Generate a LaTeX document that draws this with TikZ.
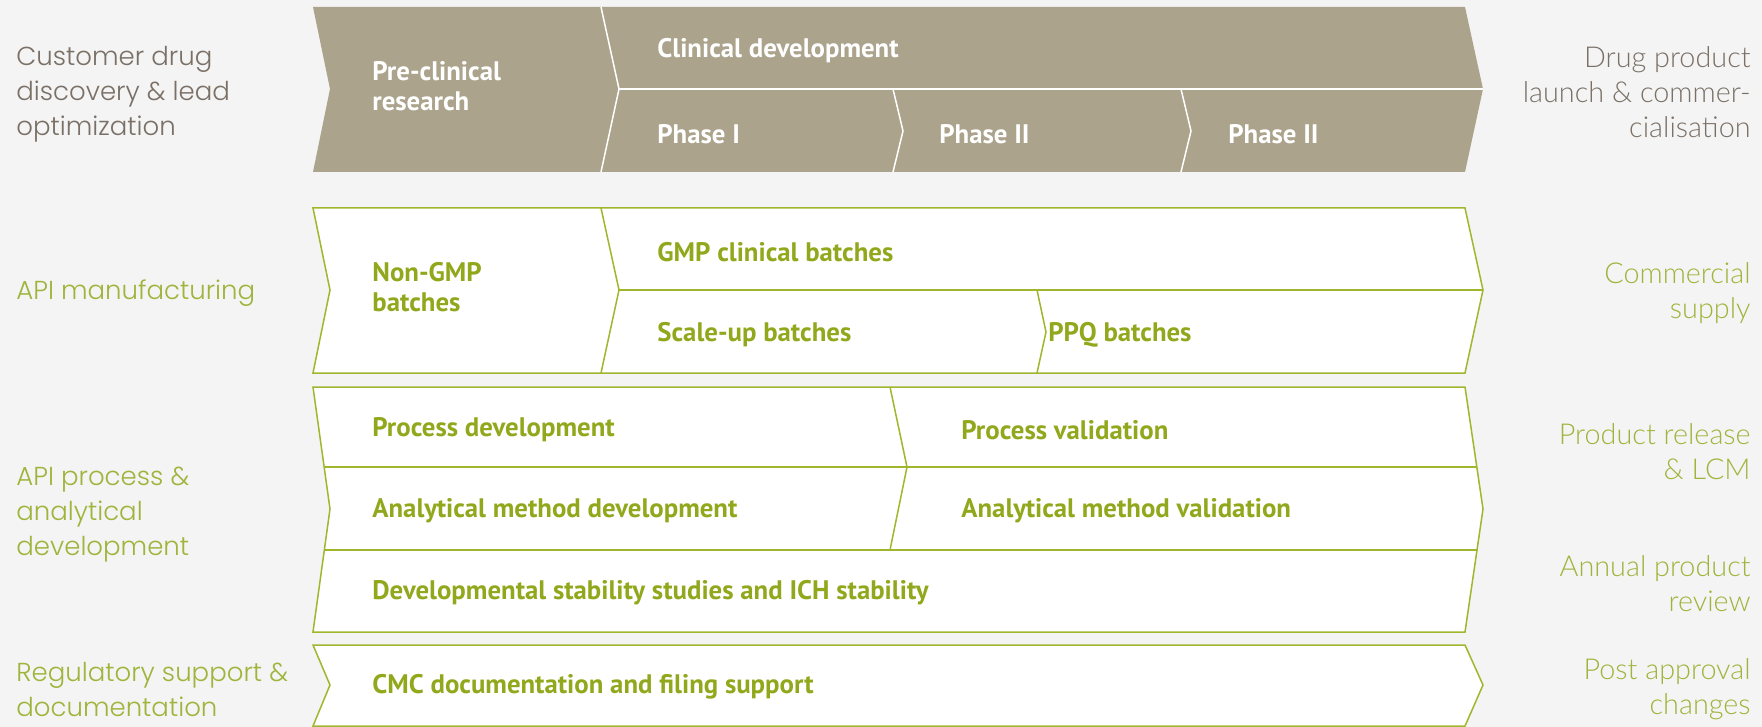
\documentclass[tikz,border=0pt]{standalone}
\usepackage{fontspec}
\usepackage{tikz}
\usetikzlibrary{calc, positioning}

\setmainfont{PT Sans}
\newfontfamily\cellfont{PT Sans Bold}
\IfFontExistsTF{Poppins Light}{\newfontfamily\leftlabelfont{Poppins Light}}{\newfontfamily\leftlabelfont{Poppins}}
\IfFontExistsTF{Lato Light}{\newfontfamily\rightlabelfont{Lato Light}}{\newfontfamily\rightlabelfont{Lato}}

\definecolor{bgcol}{RGB}{244,244,244}
\definecolor{tan}{RGB}{171,163,139}
\definecolor{olive}{RGB}{146,168,28}
\definecolor{oliveline}{RGB}{160,182,45}
\definecolor{sidegray}{RGB}{122,112,102}
\definecolor{sidegreen}{RGB}{158,180,58}

\begin{document}
\begin{tikzpicture}[x=0.5pt, y=-0.5pt,
    cell/.style={anchor=west, align=left, inner sep=0pt, text=olive,
      font=\cellfont\fontsize{13.4}{15}\selectfont},
    stage/.style={cell, text=white},
    leftlabel/.style={anchor=west, align=left, inner sep=0pt, text=sidegreen,
      font=\leftlabelfont\fontsize{13}{17.5}\selectfont},
    rightlabel/.style={anchor=east, align=right, inner sep=0pt, text=sidegreen,
      font=\rightlabelfont\fontsize{14.4}{17.5}\selectfont},
    lane/.style={fill=white, draw=oliveline, line width=0.75pt, line join=miter},
    split/.style={draw=oliveline, line width=0.75pt}]

  % page
  \fill[bgcol] (0,0) rectangle (1762,727);
  \useasboundingbox (0,0) rectangle (1762,727);

  % stages band
  \fill[tan] (313,7) -- (1465,7) -- (1483,89) -- (1465,172) -- (313,172) -- (330,89) -- cycle;
  \draw[white, line width=0.75pt] (601,7) -- (619,89) -- (601,172);
  \draw[white, line width=0.75pt] (619,89) -- (1483,89);
  \draw[white, line width=0.75pt] (893,89) -- (903,131) -- (893,172);
  \draw[white, line width=0.75pt] (1181,89) -- (1191,131) -- (1181,172);

  \node[stage] (preclin) at (372,86) {Pre-clinical\\research};
  \node[stage] (clindev) at (657,51) {Clinical development};
  \node[stage] (phase1) at (657,134) {Phase I};
  \node[stage] (phase2) at (939,134) {Phase II};
  \node[stage] (phase3) at (1228,134) {Phase II};

  % manufacturing lane
  \draw[lane] (313,208) -- (1465,208) -- (1483,290) -- (1465,373) -- (313,373) -- (330,290) -- cycle;
  \draw[split] (601,208) -- (619,290) -- (601,373);
  \draw[split] (619,290) -- (1483,290);
  \draw[split] (1037,290) -- (1046,332) -- (1037,373);

  \node[cell] (nongmp) at (372,287) {Non-GMP\\batches};
  \node[cell] (gmp) at (657,252) {GMP clinical batches};
  \node[cell] (scaleup) at (657,335) {Scale-up batches};
  \node[cell] (ppq) at (1048,335) {PPQ batches};

  % development lane
  \draw[lane] (313,387) -- (1465,387) -- (1483,509) -- (1465,632) -- (313,632) -- (330,509) -- cycle;
  \draw[split] (324.1,467) -- (1476.8,467);
  \draw[split] (324.3,550) -- (1477,550);
  \draw[split] (890,387) -- (907,467) -- (890,550);

  \node[cell] (procdev) at (372,430) {Process development};
  \node[cell] (procval) at (961,430) {Process validation};
  \node[cell] (anadev) at (372,511) {Analytical method development};
  \node[cell] (anaval) at (961,511) {Analytical method validation};
  \node[cell] (stab) at (372,593) {Developmental stability studies and ICH stability};

  % regulatory lane
  \draw[lane] (313,645) -- (1465,645) -- (1483,685) -- (1465,726) -- (313,726) -- (330,685) -- cycle;
  \node[cell] (cmc) at (372,687) {CMC documentation and filing support};

  % side labels
  \node[leftlabel, text=sidegray] (discovery) at (16,94) {Customer drug\\discovery \& lead\\optimization};
  \node[leftlabel] (apimanu) at (16,293) {API manufacturing};
  \node[leftlabel] (apiproc) at (16,515) {API process \&\\analytical\\development};
  \node[leftlabel] (regul) at (16,689) {Regulatory support \&\\documentation};

  \node[rightlabel, text=sidegray] (launch) at (1751,92) {Drug product\\launch \& commer-\\cialisation};
  \node[rightlabel] (supply) at (1751,293) {Commercial\\supply};
  \node[rightlabel] (release) at (1751,452) {Product release\\\& LCM};
  \node[rightlabel] (review) at (1751,584) {Annual product\\review};
  \node[rightlabel] (postappr) at (1751,689) {Post approval\\changes};
\end{tikzpicture}
\end{document}
